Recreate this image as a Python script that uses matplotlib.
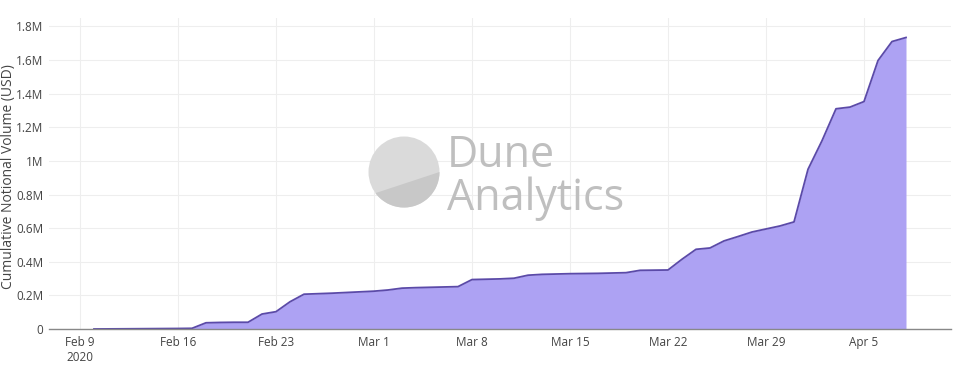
import numpy as np
import pandas as pd
import matplotlib
matplotlib.use("Agg")
import matplotlib.pyplot as plt
import matplotlib.dates as mdates
from matplotlib.patches import Circle, Polygon

# ---- data ----
dates = pd.date_range("2020-02-10", "2020-04-08", freq="D")
volume = [
    0, 500, 1000, 1500, 2000, 2500, 3000, 4000,            # Feb 10-17
    37000, 39000, 40000, 40000, 89000, 103000, 162000,     # Feb 18-24
    207000, 210000, 213000, 217000, 221000, 225000,        # Feb 25 - Mar 1
    232000, 243000, 246000, 248000, 250000, 252000,        # Mar 2-7
    294000, 296000, 298000, 302000, 320000, 325000,        # Mar 8-13
    327000, 329000, 330000, 331000, 333000, 335000,        # Mar 14-19
    349000, 350000, 351000,                                # Mar 20-22
    415000, 474000, 482000, 524000, 550000, 577000,        # Mar 23-28
    595000, 613000, 637000,                                # Mar 29-31
    950000, 1120000, 1310000, 1320000, 1353000,            # Apr 1-5
    1597000, 1710000, 1734000,                             # Apr 6-8
]
tick_dates = ["2020-02-09", "2020-02-16", "2020-02-23", "2020-03-01", "2020-03-08",
              "2020-03-15", "2020-03-22", "2020-03-29", "2020-04-05"]
tick_labels = ["Feb 9\n2020", "Feb 16", "Feb 23", "Mar 1", "Mar 8",
               "Mar 15", "Mar 22", "Mar 29", "Apr 5"]
y_ticks = [0, 200000, 400000, 600000, 800000, 1000000, 1200000, 1400000, 1600000, 1800000]
y_labels = ["0", "0.2M", "0.4M", "0.6M", "0.8M", "1M", "1.2M", "1.4M", "1.6M", "1.8M"]
y_title = "Cumulative Notional Volume (USD)"

plt.rcParams['font.family'] = ['Open Sans', 'DejaVu Sans']

W, H = 960, 366
fig = plt.figure(figsize=(W / 100, H / 100), dpi=100)
fig.patch.set_facecolor("white")

ax = fig.add_axes([49 / W, 1 - 329 / H, (951 - 49) / W, (329 - 18) / H])
x = mdates.date2num(pd.to_datetime(dates))
ax.fill_between(x, 0, volume, color="#ada2f3", lw=0, zorder=2)
ax.plot(x, volume, color="#5b4aa8", lw=1.3, zorder=3)

ax.set_xlim(mdates.date2num(pd.Timestamp("2020-02-09")) - 31 / 14,
            mdates.date2num(pd.Timestamp("2020-04-05")) + 87 / 14)
ax.set_ylim(0, 1850000)

ax.set_xticks(mdates.date2num(pd.to_datetime(tick_dates)))
ax.set_xticklabels(tick_labels, fontsize=8.5, color="#444444", linespacing=1.2)
ax.set_yticks(y_ticks)
ax.set_yticklabels(y_labels, fontsize=8.5, color="#444444")
ax.tick_params(axis="both", length=0, pad=4)
ax.tick_params(axis="x", pad=5)
ax.grid(True, color="#eeeeee", lw=0.8, zorder=0)
ax.set_axisbelow(True)
for s in ["top", "right", "left"]:
    ax.spines[s].set_visible(False)
ax.spines["bottom"].set_color("#888888")
ax.spines["bottom"].set_linewidth(1.0)
ax.spines["bottom"].set_zorder(4)
for lab in ax.get_xticklabels():
    lab.set_horizontalalignment("center")

fig.text(9 / W, 1 - 177 / H, y_title, rotation=90, va="center", ha="center",
         fontsize=10, color="#444444")

# ---- watermark ----
ov = fig.add_axes([0, 0, 1, 1], facecolor="none")
ov.set_xlim(0, W)
ov.set_ylim(H, 0)
ov.axis("off")
cx, cy, r = 404, 172, 35.5
ov.add_patch(Circle((cx, cy), r, facecolor="#dadada", edgecolor="none"))
th = np.radians(np.linspace(216.5, 360, 60))
pts = np.column_stack([cx + r * np.cos(th), cy - r * np.sin(th)])
ov.add_patch(Polygon(pts, closed=True, facecolor="#c8c8c8", edgecolor="none"))
ov.text(447, 167, "Dune", fontsize=31, color="#bfbfbf", family=["Open Sans", "DejaVu Sans"],
        fontweight="normal", va="baseline", ha="left")
ov.text(447, 210, "Analytics", fontsize=31, color="#bfbfbf", family=["Open Sans", "DejaVu Sans"],
        fontweight="normal", va="baseline", ha="left")

fig.savefig("out.png", dpi=100)
